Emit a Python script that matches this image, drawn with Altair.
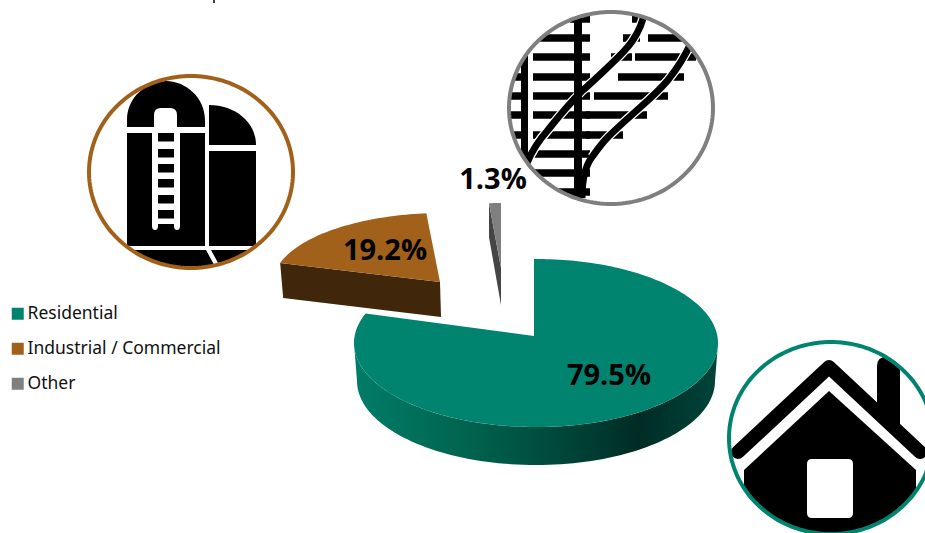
import math
import altair as alt

# Shares of consumption by customer class
SEGMENTS = ["Residential", "Industrial / Commercial", "Other"]
SHARES = [79.5, 19.2, 1.3]
COLOURS = ["#00846F", "#A2611A", "#7F7F7F"]
SIDE_BROWN = "#40260A"
SIDE_GREY = "#454545"
LABEL_FONT = "Open Sans"
LEGEND_FONT = "Noto Sans"

# Exploded slice geometry: apex, ellipse centre, radii, thickness
SLICE_LAYOUT = [
    dict(apex=(534, 336), centre=(536, 343), rx=182, ry=84, depth=38),
    dict(apex=(440, 282), centre=(443, 283), rx=170, ry=70, depth=35),
    dict(apex=(501, 268), centre=(501, 268), rx=147, ry=65, depth=37),
]
LABEL_POS = [(609, 376), (385, 251), (493, 180)]

# Icon rings: centre x, centre y, radius x, radius y, colour
RINGS = [
    (831, 438, 102, 96, COLOURS[0]),
    (191, 172, 102, 96, COLOURS[1]),
    (611, 108, 102, 96, COLOURS[2]),
]


def feature(coords, **props):
    return {"type": "Feature", "properties": props,
            "geometry": {"type": "Polygon", "coordinates": coords}}


def rim_point(layout, theta):
    """Point where the ray from the apex at angle theta meets the top ellipse."""
    ax, ay = layout["apex"]
    cx, cy = layout["centre"]
    rx, ry = layout["rx"], layout["ry"]
    u, v = (ax - cx) / rx, (cy - ay) / ry
    du, dv = math.sin(theta), math.cos(theta)
    b = u * du + v * dv
    t = -b + math.sqrt(b * b + 1 - u * u - v * v)
    return [cx + (u + t * du) * rx, cy - (v + t * dv) * ry]


def top_face(layout, start, end):
    n = max(6, int((end - start) * 40))
    arc = [rim_point(layout, start + (end - start) * i / n) for i in range(n + 1)]
    apex = list(layout["apex"])
    return [[apex] + arc + [apex]]


def ellipse(cx, cy, rx, ry, n=180):
    return [[cx + rx * math.cos(2 * math.pi * i / n),
             cy + ry * math.sin(2 * math.pi * i / n)] for i in range(n + 1)]


# Slice angles follow the shares, clockwise from twelve o'clock
angles = []
running = 0.0
for share in SHARES:
    start = running
    running += share / 100 * 2 * math.pi
    angles.append((start, running))

top_faces = [
    feature(top_face(SLICE_LAYOUT[i], *angles[i]), segment=SEGMENTS[i])
    for i in range(3)
]

# Front wall of the large slice, bottom rim slightly narrower than the top
g = SLICE_LAYOUT[0]
front = [[g["centre"][0] + g["rx"] * math.sin(math.radians(a)),
          g["centre"][1] - g["ry"] * math.cos(math.radians(a))] for a in range(90, 271, 2)]
back = [[g["centre"][0] + (g["rx"] - 3) * math.sin(math.radians(a)),
         g["centre"][1] + g["depth"] - g["ry"] * math.cos(math.radians(a))] for a in range(270, 89, -2)]
green_wall = [feature([front + back + [front[0]]])]

b = SLICE_LAYOUT[1]
b_left = rim_point(b, angles[1][0])
b_apex = list(b["apex"])
brown_wall = [feature([[b_apex, b_left,
                        [b_left[0] + 3, b_left[1] + b["depth"]],
                        [b_apex[0] + 1, b_apex[1] + b["depth"]], b_apex]])]

k = SLICE_LAYOUT[2]
k_left = rim_point(k, angles[2][0])
k_apex = list(k["apex"])
grey_wall = [feature([[k_left, [k_left[0], k_left[1] + 34],
                       [k_apex[0], k_apex[1] + k["depth"]], k_apex, k_left]])]

# Rings, and white collars that trim the icons to the rings
ring_features = [feature([ellipse(*r[:4])], colour=r[4]) for r in RINGS]
collars = [feature([ellipse(r[0], r[1], r[2] + 40, r[3] + 40),
                    ellipse(r[0], r[1], r[2], r[3])[::-1]]) for r in RINGS]

PROJECTION = alt.Projection(type="identity", scale=1, translate=[0, 0])
ONE = alt.Data(values=[{"a": 1}])


def geo(features, **mark):
    return alt.Chart(alt.Data(values=features)).mark_geoshape(**mark).project(**PROJECTION.to_dict())


def solid(path, colour="black"):
    return alt.Chart(ONE).mark_point(shape=path, size=4, filled=True, fill=colour,
                                     opacity=1, strokeWidth=0).encode(
        x=alt.value(0), y=alt.value(0))


def stroked(path, width, colour="black", cap="butt"):
    return alt.Chart(ONE).mark_point(shape=path, size=4, filled=False, stroke=colour,
                                     opacity=1, strokeWidth=width, strokeCap=cap,
                                     strokeJoin="round").encode(
        x=alt.value(0), y=alt.value(0))


# Silo icon
rung_tops = [133, 149, 164, 179, 195, 210]
silo = [
    solid("M127 127V120C127 97 147 81 166 81C185 81 205 97 205 120V127H177V115Q177 108 170 108"
          "H161Q154 108 154 115V127Z"),
    solid("M127 133H152V226Q152 230 155 230Q158 230 158 226V224H174V226Q174 230 177 230"
          "Q180 230 180 226V133H205V246H127Z"),
    solid("".join(f"M158 {y}H174V{y + 8.5}H158Z" for y in rung_tops)),
    solid("M209 105C235 105 256 122 256 145H209ZM209 151H256V246H209Z"),
    solid("M127 250H206L218 272H127ZM211 250H256V272H223Z"),
]

# Railway junction icon
tie_rows = [38, 57, 77, 96, 115, 135, 154, 173, 192]
left_ties = ("".join(f"M533 {y}H590" for y in tie_rows)
             + "M570 19H590M505 77H521M505 96H521M505 115H521M505 135H521")
right_ties = ("M648 38H684M635 57H696M618 77H684M594 96H668M586 115H647M586 135H623"
              "M611 57H632M623 38H640M632 19H645")
CURVE_ONE = ("M527 163C533 148 540 139 548 130C556 120 566 107 582 91"
             "C592 82 600 75 608 67C620 55 640 40 645 10")
CURVE_TWO_UPPER = ("M592 157C597 150 602 143 608 137C617 128 626 120 635 112"
                   "C646 102 658 92 668 80C676 70 684 58 691 43")
CURVE_TWO = "M582 198C582 180 586 165 " + CURVE_TWO_UPPER[1:].replace("C", " ", 0).replace("592 157C", "592 157C", 1)
rail = [
    stroked(left_ties, 7.5),
    stroked(right_ties, 7.5),
    stroked(CURVE_ONE, 9.5, "white"),
    stroked(CURVE_TWO_UPPER, 9.5, "white"),
    stroked("M578 10V198", 8),
    stroked("M524.5 55V170", 7),
    stroked(CURVE_ONE, 7),
    stroked(CURVE_TWO, 7),
]

# House icon
house = [
    solid("M877 410V366Q877 357 886 357H900V430Z"),
    stroked("M738 452L829 367L920 452", 14, cap="round"),
    solid("M829 391L916 470V545H744V470Z"),
    solid("M812 459H848Q853 459 853 464V513Q853 518 848 518H812Q807 518 807 513V464Q807 459 812 459Z",
          "white"),
]

# Stub of the heading line that runs off the top edge
heading_stub = stroked("M214 0V3", 1.5)

rings_layer = geo(ring_features, filled=False, strokeWidth=4).encode(
    stroke=alt.Stroke("properties.colour:N", scale=None))

tops_layer = geo(top_faces).encode(
    color=alt.Color(
        "properties.segment:N",
        scale=alt.Scale(domain=SEGMENTS, range=COLOURS),
        legend=alt.Legend(
            title=None, orient="none", legendX=9, legendY=305,
            symbolType="square", symbolSize=144, symbolStrokeWidth=0,
            labelFont=LEGEND_FONT, labelFontSize=17.5, labelColor="#111111",
            labelOffset=1, rowPadding=16, labelLimit=300,
        ),
    )
)

green_wall_layer = geo(green_wall, fill=alt.Gradient(
    gradient="linear", x1=0, y1=0, x2=1, y2=0,
    stops=[
        alt.GradientStop(offset=0, color="#007C68"),
        alt.GradientStop(offset=0.3, color="#00654F"),
        alt.GradientStop(offset=0.55, color="#00493C"),
        alt.GradientStop(offset=0.78, color="#002C25"),
        alt.GradientStop(offset=1, color="#00443A"),
    ]))

labels = alt.Chart(alt.Data(values=[
    {"text": f"{s}%", "x": p[0], "y": p[1]} for s, p in zip(SHARES, LABEL_POS)
])).mark_text(font=LABEL_FONT, fontWeight="bold", fontSize=29, color="black",
              align="center", baseline="middle").encode(
    text="text:N",
    x=alt.X("x:Q", scale=None),
    y=alt.Y("y:Q", scale=None),
)

chart = alt.layer(
    heading_stub,
    *silo, *rail, *house,
    geo(collars, fill="white"),
    rings_layer,
    green_wall_layer,
    geo(brown_wall, fill=SIDE_BROWN),
    geo(grey_wall, fill=SIDE_GREY),
    tops_layer,
    labels,
).properties(
    width=925, height=533, padding=0,
    autosize=alt.AutoSizeParams(type="none"),
    background="white",
).configure_view(stroke=None)

chart.save("out.html", embed_options={"renderer": "svg", "actions": False})
